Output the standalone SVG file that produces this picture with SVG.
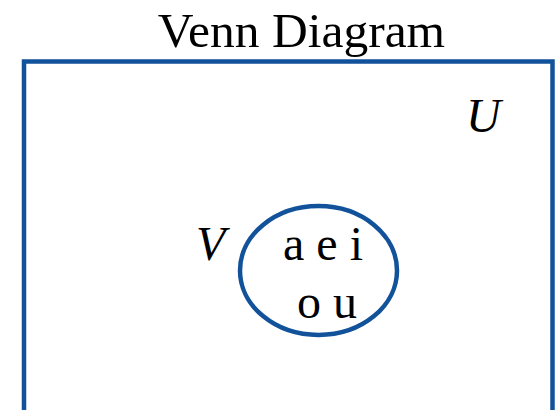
<svg xmlns="http://www.w3.org/2000/svg" width="556" height="410" viewBox="0 0 556 410">
<style>
.t{font-family:"Liberation Serif","Times New Roman",serif;fill:#000}
.shape{fill:none;stroke:#12529a;stroke-width:4.5}
</style>
<rect width="556" height="410" fill="#fff"/>
<text class="t" x="301.5" y="46.5" font-size="49.5" text-anchor="middle">Venn Diagram</text>
<g id="universe">
<rect class="shape" x="24" y="61.5" width="528.5" height="400"/>
<text class="t" x="466" y="132" font-size="48" font-style="italic">U</text>
</g>
<g id="setV">
<ellipse class="shape" cx="318.5" cy="270.5" rx="78.5" ry="64.5"/>
<text class="t" x="196" y="260" font-size="48" font-style="italic">V</text>
<text class="t" x="323" y="260" font-size="48" text-anchor="middle">a e i</text>
<text class="t" x="327" y="318" font-size="48" text-anchor="middle">o u</text>
</g>
<g id="connectors"/>
</svg>
